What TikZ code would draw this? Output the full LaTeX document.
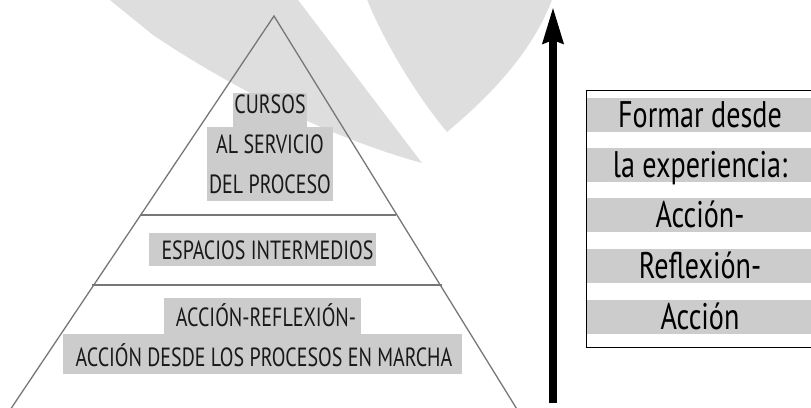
\documentclass[tikz,border=0pt]{standalone}
\usepackage{fontspec}
\setmainfont{PT Sans}[FakeStretch=0.76]
\usetikzlibrary{arrows.meta}
\definecolor{wmgray}{HTML}{DEDEDE}
\definecolor{boxgray}{HTML}{CCCCCC}
\definecolor{pyrgray}{HTML}{777777}
\begin{document}
\begin{tikzpicture}[x=1pt,y=-1pt,
  wm/.style={fill=wmgray,draw=none},
  pyrline/.style={draw=pyrgray,line width=1.3pt},
  tierline/.style={draw=pyrgray,line width=2.2pt},
  plabel/.style={fill=boxgray,inner sep=0pt,anchor=base,font=\fontsize{26.3}{28}\selectfont,text=black!90},
  rlabel/.style={fill=boxgray,inner sep=0pt,anchor=base,minimum width=226pt,text height=29pt,text depth=5pt,font=\fontsize{37}{40}\selectfont,text=black},
  frame/.style={draw=black,line width=1.2pt,inner sep=0pt,anchor=north west},
  uparrow/.style={line width=7.5pt,-{Stealth[length=36pt,width=20pt,inset=3pt]}}
]
\useasboundingbox (0,0) rectangle (811,407);
\clip (0,0) rectangle (811,407);
% watermark
\fill[wm] (105,-4) -- (153,35) .. controls (220,80) and (320,135) .. (422,163) -- (295,-4) -- cycle;
\fill[wm] (366,-3) .. controls (385,45) and (420,100) .. (447,132) .. controls (485,100) and (532,55) .. (553,-3) -- cycle;
% pyramid
\coordinate (apex) at (274,16);
\coordinate (bl) at (8.7,412);
\coordinate (br) at (518.7,412);
\draw[pyrline] (bl) -- (apex) -- (br);
\coordinate (t1l) at (140,215);
\coordinate (t1r) at (396,215);
\coordinate (t2l) at (92,285);
\coordinate (t2r) at (442,285);
\draw[tierline] (t1l) -- (t1r);
\draw[tierline] (t2l) -- (t2r);
% labels
\node[plabel,minimum width=74pt,text height=20pt,text depth=14pt] (cursos) at (270,113) {CURSOS};
\node[plabel,minimum width=126pt,text height=26pt,text depth=12pt] (servicio) at (270,153) {AL SERVICIO};
\node[plabel,minimum width=126pt,text height=28pt,text depth=8pt] (proceso) at (270,193) {DEL PROCESO};
\node[plabel,minimum width=227pt,text height=26pt,text depth=7pt] (espacios) at (262.5,259) {\hspace*{10pt}ESPACIOS INTERMEDIOS};
\node[plabel,minimum width=197pt,text height=28pt,text depth=8pt] (accref) at (262.5,326) {\hspace*{7pt}ACCIÓN-REFLEXIÓN-};
\node[plabel,minimum width=399pt,text height=32pt,text depth=8pt] (accdesde) at (262.5,366) {\hspace*{3pt}ACCIÓN DESDE LOS PROCESOS EN MARCHA};
% arrow
\coordinate (abot) at (553,403);
\coordinate (atop) at (553,7);
\draw[uparrow] (abot) -- (atop);
% right box
\node[frame,minimum width=229pt,minimum height=257pt] (box) at (586,90) {};
\node[rlabel] (r1) at (700,127) {Formar desde};
\node[rlabel] (r2) at (700,177) {la experiencia:};
\node[rlabel] (r3) at (700,227) {Acción-};
\node[rlabel] (r4) at (700,278) {Reflexión-};
\node[rlabel] (r5) at (700,329) {Acción};
\end{tikzpicture}
\end{document}
